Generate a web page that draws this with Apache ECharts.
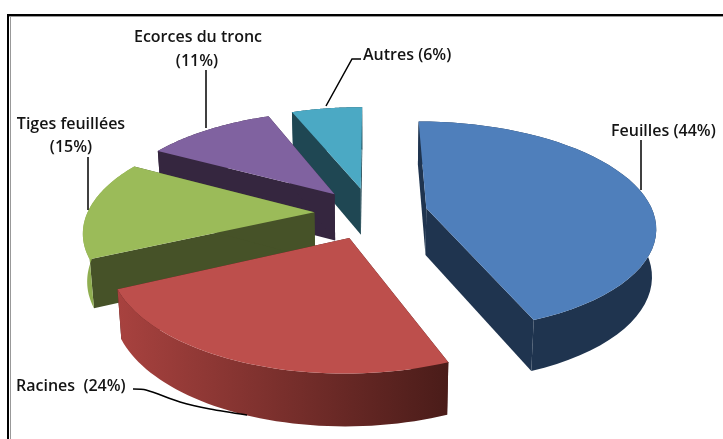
<!DOCTYPE html>
<html><head><meta charset="utf-8">
<style>html,body{margin:0;padding:0;background:#fff}#c{width:723px;height:439px}</style>
<script src="https://cdn.jsdelivr.net/npm/echarts@6/dist/echarts.min.js"></script>
</head><body><div id="c"></div>
<script>
var categories = ['Feuilles','Racines','Tiges feuillées','Ecorces du tronc','Autres'];
var shares = [44,24,15,11,6];
var topColors = ['#4f7fbb','#bd4f4c','#9bbb59','#8062a0','#4ba9c4'];
var cutColors = ['#1f344f','#4a1c19','#465228','#35263f','#1f4753'];
var rimColors = ['#1f344f','#a8423f','#8fae50','#35263f','#1f4753'];
var rimEndColors = ['#1f344f','#4a1c19','#8fae50','#35263f','#1f4753'];

var view = {cx:371, cy:213, rx:227, ry:103, kx:0.163, ky:0.17, explode:0.25, depth:47, kd:0.09, taper:0.985};
var FONT = '"Open Sans", Lato, sans-serif';

function project(u,v){
  return [view.cx + view.rx*u/(1+view.kx*v), view.cy - view.ry*v/(1+view.ky*v)];
}
function drop(p,v){
  var d = view.depth/(1+view.kd*v);
  return [view.cx + (p[0]-view.cx)*view.taper, p[1]+d];
}
var total = shares.reduce(function(a,b){return a+b;},0);

function renderSlice(params, api){
  var i = params.dataIndex, start = 0;
  for (var j=0;j<i;j++) start += shares[j];
  var a0 = start/total*2*Math.PI, a1 = (start+api.value(0))/total*2*Math.PI, am=(a0+a1)/2;
  var ou = view.explode*Math.sin(am), ov = view.explode*Math.cos(am);
  var rim=[], rimV=[], n=48;
  for (var k=0;k<=n;k++){
    var a=a0+(a1-a0)*k/n, u=ou+Math.sin(a), v=ov+Math.cos(a);
    rim.push(project(u,v)); rimV.push(v);
  }
  var apex=project(ou,ov);
  var low=rim.map(function(p,k){return drop(p,rimV[k]);});
  var apexLow=drop(apex,ov);
  var base=(5-i)*10, cut=cutColors[i];
  function poly(points,fill,z){return {type:'polygon',z2:base+z,shape:{points:points},style:{fill:fill}};}
  var rimPts=rim.concat(low.slice().reverse());
  var rimFill = new echarts.graphic.LinearGradient(0,0,1,0,[
    {offset:0,color:rimColors[i]},{offset:1,color:rimEndColors[i]}]);
  return {type:'group',children:[
    poly([apex,rim[0],low[0],apexLow],cut,0),
    poly([apex,rim[n],low[n],apexLow],cut,1),
    poly(rimPts,rimFill,2),
    poly([apex].concat(rim),topColors[i],3)
  ]};
}

function label(text,x,y,align){
  return {type:'text',x:x,y:y,z:10,style:{text:text,fill:'#141414',font:'600 16px '+FONT,align:align,verticalAlign:'middle'}};
}
function leader(pts,smooth){
  return {type:'polyline',z:10,shape:{points:pts,smooth:smooth||0},style:{stroke:'#000',lineWidth:1.5,fill:null}};
}
function bar(x,y,w,h,c){return {type:'rect',z:9,shape:{x:x,y:y,width:w,height:h},style:{fill:c}};}

var chart = echarts.init(document.getElementById('c'),null,{renderer:'canvas'});
chart.setOption({
  animation:false,
  backgroundColor:'#fff',
  graphic:[
    bar(7,14,716,2,'#000'), bar(7,16,716,1,'#999'),
    bar(7,14,2,425,'#000'), bar(10,17,1,422,'#999'),
    label('Ecorces du tronc',198,37,'center'), label('(11%)',197,61,'center'),
    label('Tiges feuillées',71,124,'center'), label('(15%)',71,147,'center'),
    label('Autres (6%)',363,55,'left'),
    label('Feuilles (44%)',611,131,'left'),
    label('Racines  (24%)',16,386,'left'),
    leader([[206,70],[206,128]]),
    leader([[88,157],[88,210]]),
    leader([[361,59],[352,59],[326,106]]),
    leader([[641,140],[641,190]]),
    leader([[133,389],[146,390],[180,402],[210,409],[247,415]],0.3)
  ],
  series:[{
    type:'custom',
    coordinateSystem:'none',
    renderItem:renderSlice,
    data:shares.map(function(s,i){return {name:categories[i],value:[s]};})
  }]
});
</script></body></html>
